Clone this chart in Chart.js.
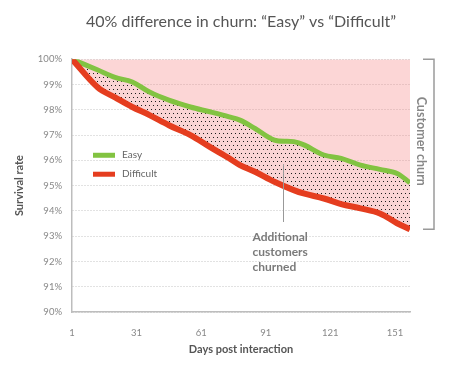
<!DOCTYPE html>
<html>
<head>
<meta charset="utf-8">
<script src="https://cdn.jsdelivr.net/npm/chart.js@4.4.0/dist/chart.umd.min.js"></script>
<style>
  html, body { margin: 0; padding: 0; background: #fff; }
  #wrap { width: 455px; height: 374px; position: relative; }
</style>
</head>
<body>
<div id="wrap"><canvas id="myChart"></canvas></div>
<script>
// values (day, survival %)
const days = [1, 13, 21, 29, 37, 46, 56, 65, 74, 79, 86, 95, 104, 109, 118, 126, 135, 144, 152, 158];
const easy = [100, 99.57, 99.28, 99.10, 98.70, 98.38, 98.11, 97.92, 97.72, 97.59, 97.26, 96.80, 96.74, 96.60, 96.21, 96.08, 95.81, 95.64, 95.48, 95.11];
const difficult = [100, 98.88, 98.49, 98.11, 97.79, 97.39, 97.00, 96.53, 96.08, 95.81, 95.55, 95.15, 94.82, 94.68, 94.49, 94.27, 94.10, 93.90, 93.51, 93.27];
const xTicks = [1, 31, 61, 91, 121, 151];
const seriesNames = ['Difficult', 'Easy'];
const titleText = '40% difference in churn: \u201cEasy\u201d vs \u201cDifficult\u201d';
const bracketLabel = 'Customer churn';
const noteLines = ['Additional', 'customers', 'churned'];

const FONT = 'Lato, "Open Sans", sans-serif';
const GREEN = '#82c341';
const RED = '#e53d1f';
const PINK = 'rgba(244, 120, 120, 0.3)';

function makeDots() {
    const c = document.createElement('canvas');
    c.width = 4;
    c.height = 8;
    const g = c.getContext('2d');
    g.fillStyle = 'rgb(250, 212, 212)';
    g.fillRect(0, 0, 4, 8);
    g.fillStyle = '#1c1c1c';
    g.fillRect(1, 1, 1, 1);
    g.fillRect(3, 5, 1, 1);
    return g.createPattern(c, 'repeat');
}

// legend, bracket and note are drawn on top of the chart
const extras = {
    id: 'extras',
    afterDraw(chart) {
        const ctx = chart.ctx;
        const area = chart.chartArea;
        const x = chart.scales.x;
        const y = chart.scales.y;
        ctx.save();

        // legend inside the plot
        const lx = area.left + 21;
        [[GREEN, seriesNames[1], 96.2], [RED, seriesNames[0], 95.45]].forEach(([col, name, v]) => {
            const py = y.getPixelForValue(v);
            ctx.fillStyle = col;
            ctx.fillRect(lx, py - 2.5, 22, 5);
            ctx.fillStyle = '#666';
            ctx.font = '10px ' + FONT;
            ctx.textAlign = 'left';
            ctx.textBaseline = 'middle';
            ctx.fillText(name, lx + 29, py);
        });

        // bracket on the right
        const bx = area.right + 24;
        const top = y.getPixelForValue(100);
        const bot = y.getPixelForValue(difficult[difficult.length - 1]);
        ctx.strokeStyle = '#9a9a9a';
        ctx.lineWidth = 1.5;
        ctx.beginPath();
        ctx.moveTo(bx - 11, top);
        ctx.lineTo(bx, top);
        ctx.lineTo(bx, bot);
        ctx.lineTo(bx - 11, bot);
        ctx.stroke();

        ctx.save();
        ctx.translate(area.right + 11, (top + bot) / 2 - 3);
        ctx.rotate(Math.PI / 2);
        ctx.fillStyle = '#888';
        ctx.font = 'bold 12.5px ' + FONT;
        ctx.textAlign = 'center';
        ctx.textBaseline = 'middle';
        ctx.fillText(bracketLabel, 0, 0);
        ctx.restore();

        // note pointing at the dotted band
        const nx = Math.round(x.getPixelForValue(99)) + 0.5;
        ctx.strokeStyle = '#999';
        ctx.lineWidth = 1;
        ctx.beginPath();
        ctx.moveTo(nx, y.getPixelForValue(95.85));
        ctx.lineTo(nx, y.getPixelForValue(93.56));
        ctx.stroke();

        ctx.fillStyle = '#7a7a7a';
        ctx.font = 'bold 12px ' + FONT;
        ctx.textAlign = 'left';
        ctx.textBaseline = 'middle';
        const tx = nx - 31;
        const ty = y.getPixelForValue(92.98);
        noteLines.forEach((t, i) => ctx.fillText(t, tx, ty + i * 15.3));

        ctx.restore();
    }
};

const ctx = document.getElementById('myChart').getContext('2d');
new Chart(ctx, {
    type: 'line',
    data: {
        datasets: [
            {
                label: seriesNames[0],
                data: days.map((d, i) => ({ x: d, y: difficult[i] })),
                borderColor: RED,
                backgroundColor: makeDots(),
                borderWidth: 6,
                fill: '+1',
                tension: 0.35,
                pointRadius: 0
            },
            {
                label: seriesNames[1],
                data: days.map((d, i) => ({ x: d, y: easy[i] })),
                borderColor: GREEN,
                backgroundColor: PINK,
                borderWidth: 5,
                fill: 'end',
                tension: 0.35,
                pointRadius: 0
            }
        ]
    },
    options: {
        responsive: true,
        maintainAspectRatio: false,
        animation: false,
        layout: {
            padding: { left: 0, right: 45, top: 0, bottom: 0 }
        },
        scales: {
            x: {
                type: 'linear',
                min: 1,
                max: 158,
                afterBuildTicks: (axis) => {
                    axis.ticks = xTicks.map(v => ({ value: v }));
                },
                afterFit: (axis) => { axis.height = 62; },
                grid: { display: false },
                border: { display: true, color: '#bdbdbd', width: 1.5 },
                ticks: {
                    color: '#888',
                    font: { family: FONT, size: 9.5 },
                    padding: 7,
                    maxRotation: 0
                },
                title: {
                    display: true,
                    text: 'Days post interaction',
                    color: '#555',
                    font: { family: FONT, size: 11, weight: 'bold' },
                    padding: { top: 4, bottom: 18 }
                }
            },
            y: {
                min: 90,
                max: 100,
                afterFit: (axis) => { axis.width = 72; },
                ticks: {
                    stepSize: 1,
                    color: '#888',
                    font: { family: FONT, size: 9.5 },
                    padding: 10,
                    callback: (v) => v + '%'
                },
                grid: {
                    color: '#c4c4c4',
                    drawTicks: false
                },
                border: { display: true, color: '#bdbdbd', width: 1.5, dash: [1, 2] },
                title: {
                    display: true,
                    text: 'Survival rate',
                    color: '#555',
                    font: { family: FONT, size: 11, weight: 'bold' },
                    padding: { top: 13, bottom: 0 }
                }
            }
        },
        plugins: {
            legend: { display: false },
            tooltip: { enabled: false },
            filler: { drawTime: 'beforeDatasetsDraw' },
            title: {
                display: true,
                text: titleText,
                fullSize: false,
                color: '#555',
                font: { family: FONT, size: 16, weight: 'normal' },
                padding: { top: 12, bottom: 28 }
            }
        }
    },
    plugins: [extras]
});
</script>
</body>
</html>
